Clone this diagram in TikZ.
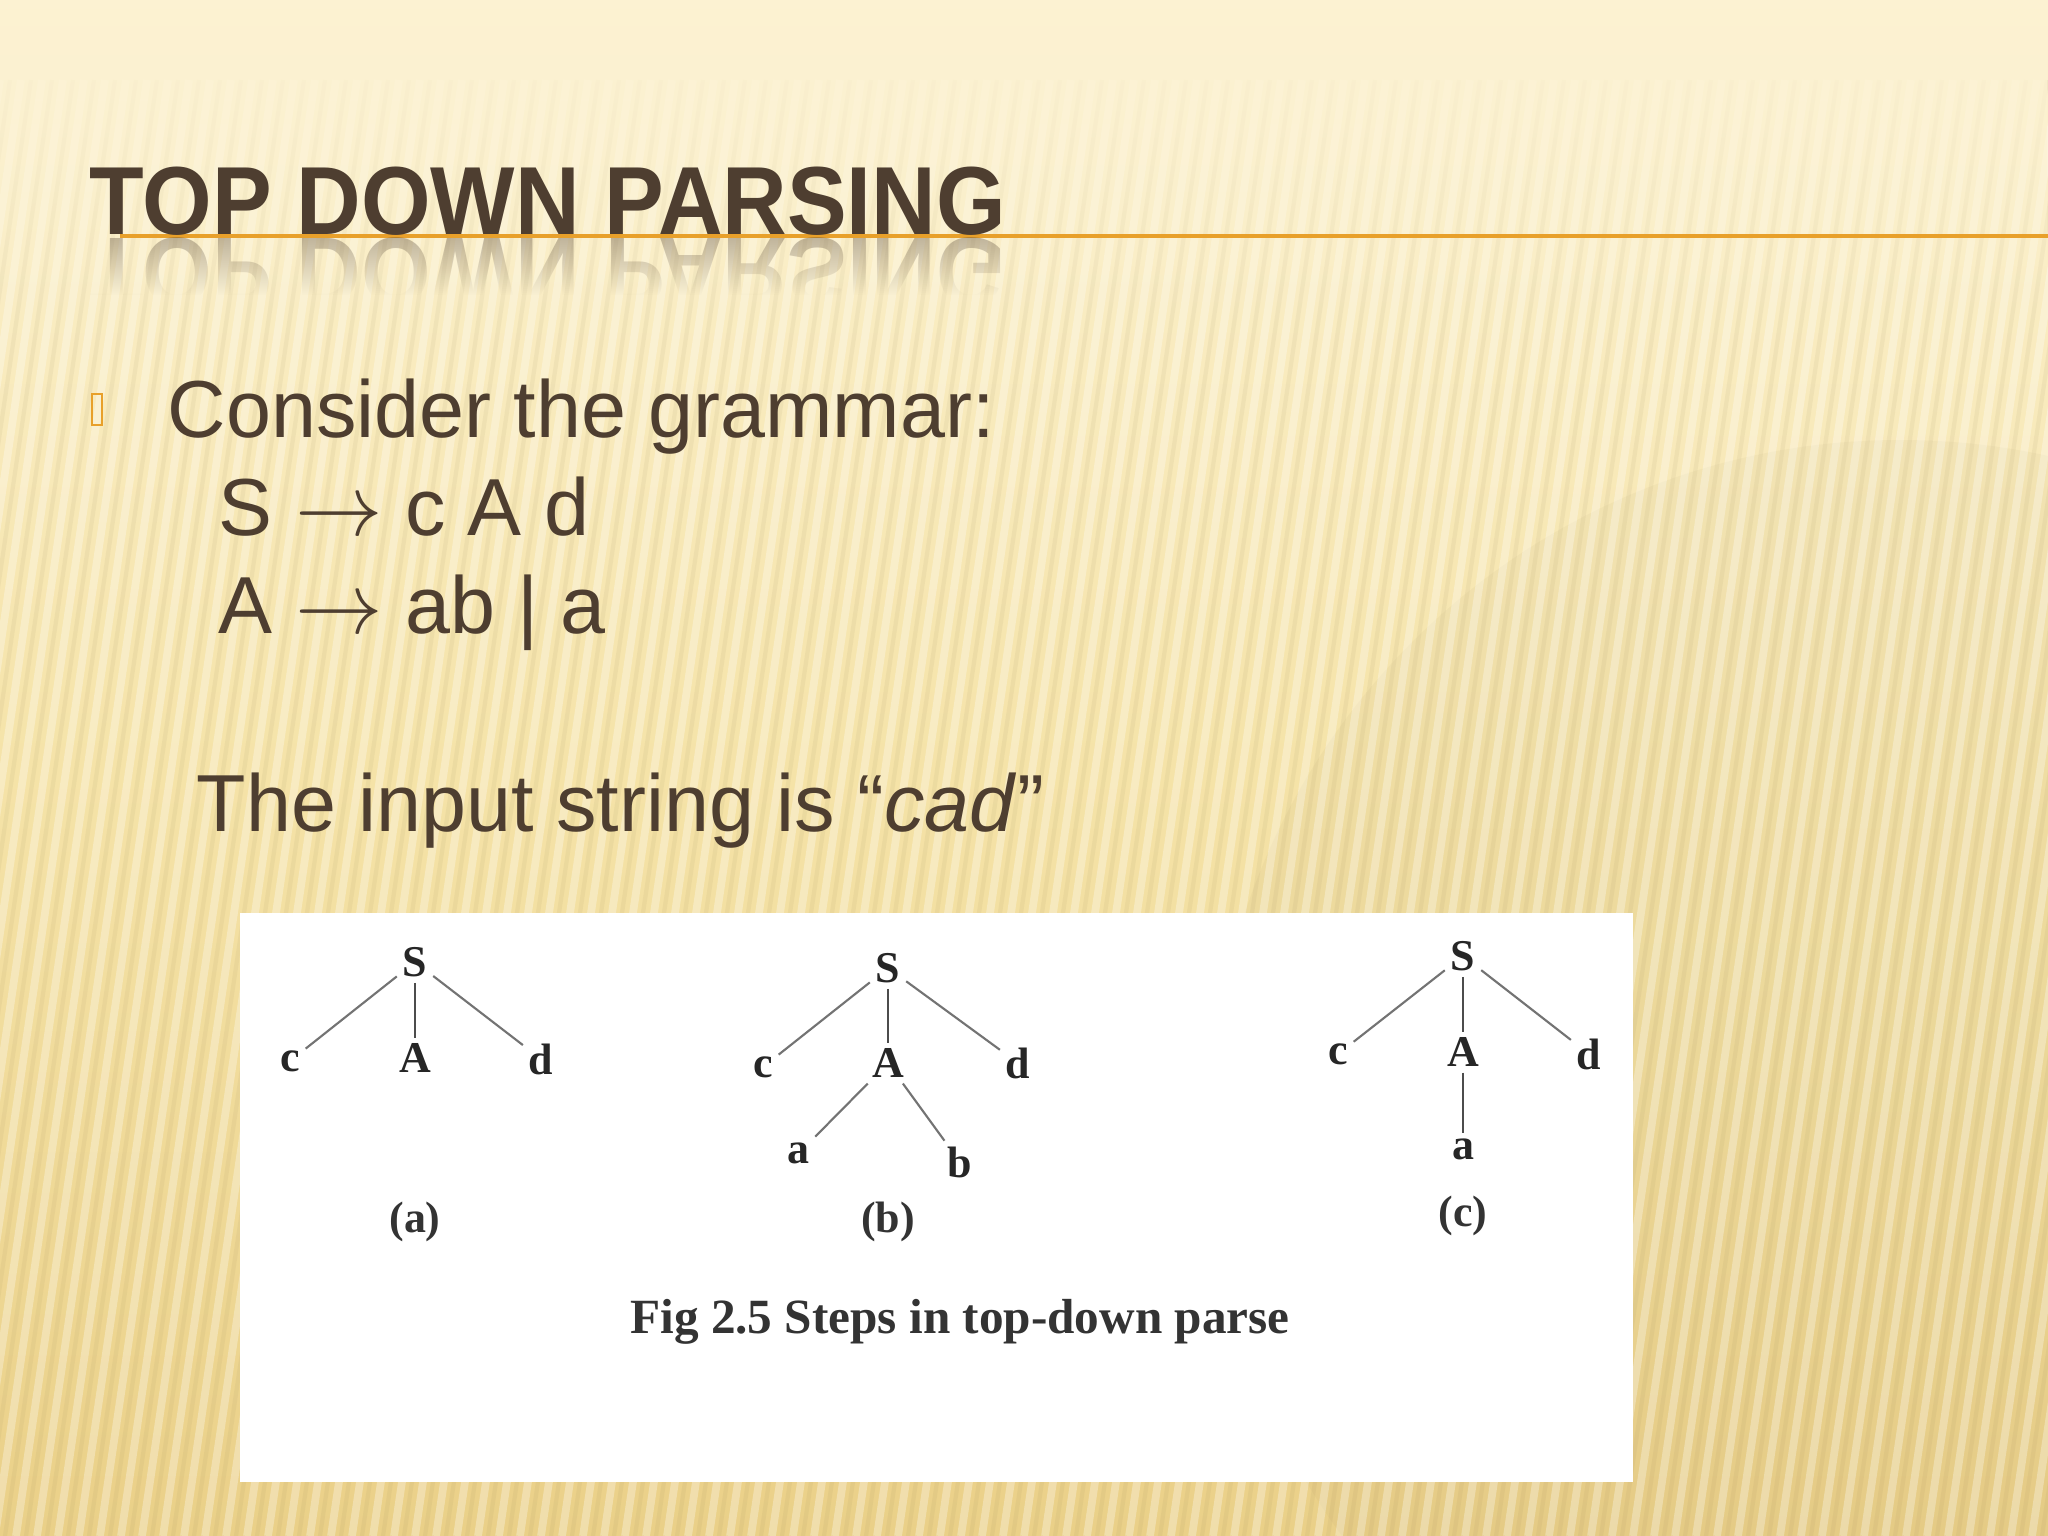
\documentclass[tikz,border=0pt]{standalone}
\usepackage{fontspec}
\setmainfont{Liberation Sans}
\newfontfamily\figfont{Liberation Serif}
\usetikzlibrary{positioning,fadings}

\definecolor{slidebrown}{RGB}{78,62,48}
\definecolor{ruleorange}{RGB}{232,160,42}
\definecolor{creamtop}{RGB}{252,242,210}
\definecolor{creammid}{RGB}{245,227,168}
\definecolor{creambot}{RGB}{234,208,136}
\definecolor{treeline}{RGB}{115,115,115}

\tikzfading[name=fadedown, top color=transparent!0, bottom color=transparent!100]

\newcommand{\prodarrow}{\ensuremath{\rightarrow}}

\begin{document}
\begin{tikzpicture}[x=0.01cm, y=-0.01cm]
	\tikzstyle{leaf} = [font=\figfont\bfseries\fontsize{12.5}{14}\selectfont, inner sep=1.5pt, text=black!85]
	\tikzstyle{sub} = [font=\figfont\bfseries\fontsize{12.5}{14}\selectfont, inner sep=1pt, text=black!80]
	\tikzstyle{branch} = [draw=treeline, line width=0.6pt]
	\tikzstyle{stem} = [draw=black!70, line width=0.7pt]
	\tikzstyle{bodytext} = [anchor=base west, inner sep=0pt, text=slidebrown, font=\fontsize{23}{27}\selectfont]
	\tikzstyle{headtext} = [anchor=base west, inner sep=0pt, text=slidebrown, font=\bfseries\fontsize{27.5}{30}\selectfont]
	\useasboundingbox (0,0) rectangle (2048,1536);
	
	% background
	\fill[top color=creamtop, bottom color=creambot, middle color=creammid] (0,0) rectangle (2048,1536);
	\fill[black!40!creambot, opacity=0.05] (1900,1130) circle[radius=690];
	\foreach \sx in {0,21,...,2400}
		\draw[white, opacity=0.3, line width=2.2pt] (\sx,80) -- (\sx-215,1536);
	\foreach \sx in {10,31,...,2410}
		\draw[black!40!creambot, opacity=0.08, line width=1.2pt] (\sx,80) -- (\sx-215,1536);
	\fill[creamtop, path fading=fadedown] (0,0) rectangle (2048,330);
	
	% title
	\draw[ruleorange, line width=1.2pt] (120,236) -- (2048,236);
	\node[headtext] (title) at (89,234) {\scalebox{0.925}[1]{TOP DOWN PARSING}};
	\begin{scope}
		\path[scope fading=fadedown] (80,236) rectangle (1020,295);
		\node[headtext, opacity=0.35] (titlerefl) at (89,238) {\scalebox{0.925}[-1]{TOP DOWN PARSING}};
	\end{scope}
	
	% grammar
	\draw[ruleorange, line width=0.7pt] (92,394) rectangle (102,425);
	\node[bodytext] (consider) at (167,437) {Consider the grammar:};
	\node[bodytext] (rule1) at (218,535) {S \prodarrow{} c A d};
	\node[bodytext] (rule2) at (218,633) {A \prodarrow{} ab | a};
	\node[bodytext] (inputstr) at (196,831) {The input string is “\textit{cad}”};
	
	% figure
	\fill[white] (240,913) rectangle (1633,1482);
	
	\node[leaf] (Sa) at (415,962) {S};
	\node[leaf, on grid, below left=0.99cm and 1.25cm of Sa] (ca) {c};
	\node[leaf, on grid, below=0.96cm of Sa] (Aa) {A};
	\node[leaf, on grid, below right=0.97cm and 1.26cm of Sa] (da) {d};
	\node[sub, on grid, below=2.6cm of Sa] (capa) {(a)};
	
	\node[leaf] (Sb) at (888,968) {S};
	\node[leaf, on grid, below left=0.99cm and 1.25cm of Sb] (cb) {c};
	\node[leaf, on grid, below=0.95cm of Sb] (Ab) {A};
	\node[leaf, on grid, below right=0.95cm and 1.3cm of Sb] (db) {d};
	\node[leaf, on grid, below left=0.9cm and 0.89cm of Ab] (ab) {a};
	\node[leaf, on grid, below right=0.99cm and 0.72cm of Ab] (bb) {b};
	\node[sub, on grid, below=2.54cm of Sb] (capb) {(b)};
	
	\node[leaf] (Sc) at (1463,956) {S};
	\node[leaf, on grid, below left=0.98cm and 1.25cm of Sc] (cc) {c};
	\node[leaf, on grid, below=0.96cm of Sc] (Ac) {A};
	\node[leaf, on grid, below right=0.98cm and 1.26cm of Sc] (dc) {d};
	\node[leaf, on grid, below=0.97cm of Ac] (ac) {a};
	\node[sub, on grid, below=2.6cm of Sc] (capc) {(c)};
	
	\node[font=\figfont\bfseries\fontsize{14}{16}\selectfont, text=black!80] (figcap) at (960,1322) {Fig 2.5 Steps in top-down parse};
	
	\draw[branch] (Sa) -- (ca);
	\draw[stem] (Sa) -- (Aa);
	\draw[branch] (Sa) -- (da);
	
	\draw[branch] (Sb) -- (cb);
	\draw[stem] (Sb) -- (Ab);
	\draw[branch] (Sb) -- (db);
	\draw[branch] (Ab) -- (ab);
	\draw[branch] (Ab) -- (bb);
	
	\draw[branch] (Sc) -- (cc);
	\draw[stem] (Sc) -- (Ac);
	\draw[branch] (Sc) -- (dc);
	\draw[stem] (Ac) -- (ac);
	
\end{tikzpicture}
\end{document}
